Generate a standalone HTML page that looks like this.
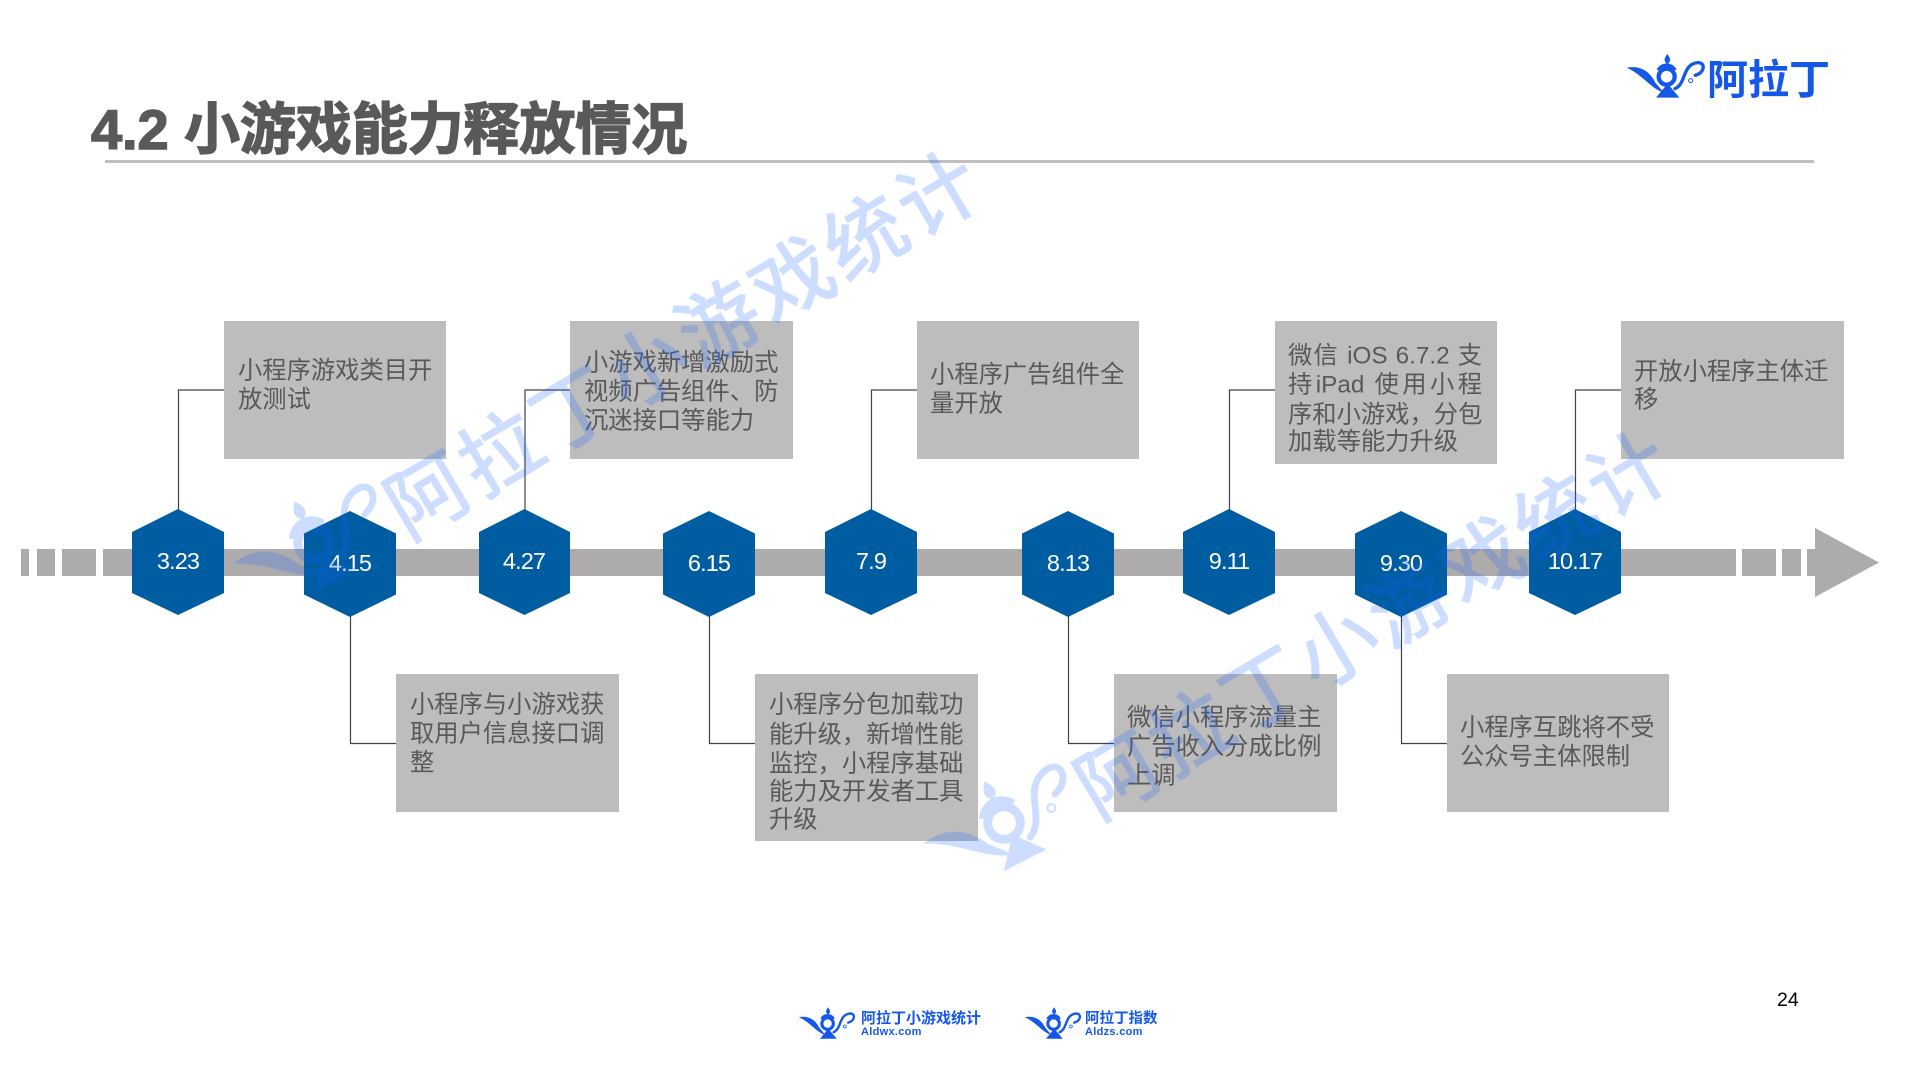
<!DOCTYPE html>
<html lang="zh"><head><meta charset="utf-8"><title>4.2 小游戏能力释放情况</title>
<style>
html,body{margin:0;padding:0;background:#fff}
#p{position:relative;width:1920px;height:1080px;overflow:hidden;background:#fff;font-family:"Liberation Sans","Noto Sans CJK SC",sans-serif}
.b{position:absolute;background:#bdbdbd}
.t{position:absolute;width:196px;font-size:24.3px;line-height:29px;height:29px;color:#595959;white-space:pre;letter-spacing:0;transform:translateY(1.6px)}
.t i{font-style:normal;font-family:"Noto Sans CJK TC",sans-serif}
.j{text-align:justify;text-align-last:justify;white-space:normal}
.h{position:absolute;width:92px;height:29px;line-height:29px;text-align:center;color:#fff;font-size:23.5px;letter-spacing:-.9px}
svg{position:absolute;left:0;top:0}
.title{position:absolute;left:91px;top:93px;font-size:56px;line-height:74px;font-weight:700;color:#595959;white-space:pre;-webkit-text-stroke:1.5px #595959;letter-spacing:-.1px}
.lg{position:absolute;color:#1558e8;font-weight:700;white-space:pre}
</style></head><body><div id="p">
<svg width="1920" height="1080" viewBox="0 0 1920 1080">
<defs>
<g id="lamp">
<path d="M20 113C60 106 88 122 106 158L132 188C92 176 70 136 20 113Z"/>
<circle cx="140" cy="140" r="24" fill="none" stroke="currentColor" stroke-width="13"/>
<path d="M142 72C151 85 155 93 142 102C129 93 133 85 142 72Z"/>
<path d="M108 203L178 203L149 168L137 168Z"/>
<path d="M110 118A34 34 0 0 1 170 118L162 122A26 26 0 0 0 118 122Z"/>
<path d="M165 176C200 160 185 105 232 98C257 96 256 128 226 136" fill="none" stroke="currentColor" stroke-width="10" stroke-linecap="round"/>
<circle cx="212" cy="152" r="6" fill="none" stroke="currentColor" stroke-width="3"/>
</g>
</defs>
<rect x="105" y="160" width="1709" height="3" fill="#bfbfbf"/>
<g fill="#adabac">
<rect x="21" y="549" width="8" height="27"/><rect x="37" y="549" width="18" height="27"/><rect x="62" y="549" width="34" height="27"/>
<rect x="103" y="549" width="1633" height="27"/><rect x="1742" y="549" width="34" height="27"/><rect x="1782" y="549" width="19" height="27"/><rect x="1807" y="549" width="8" height="27"/>
<path d="M1815 528V597L1879 562.5Z"/>
</g>
<g fill="none" stroke="#404050" stroke-width="1.2">
<path d="M178.5 511V390H224M525 511V390H570M871.5 511V390H917M1229.5 511V390H1275M1575.5 511V390H1621"/>
<path d="M350.5 616V743.5H396M709.5 616V743.5H755M1068.5 616V743.5H1114M1401.5 616V743.5H1447"/>
</g>
<g fill="#005da2">
<path d="M178 509L224 532V593L178 615L132 593V532Z"/>
<path d="M524.5 509L570 532V593L524.5 615L479 593V532Z"/>
<path d="M871 509L917 532V593L871 615L825 593V532Z"/>
<path d="M1229 509L1275 532V593L1229 615L1183 593V532Z"/>
<path d="M1575 509L1621 532V593L1575 615L1529 593V532Z"/>
<path d="M350 511L396 533.5V594.5L350 617L304 594.5V533.5Z"/>
<path d="M709 511L755 533.5V594.5L709 617L663 594.5V533.5Z"/>
<path d="M1068 511L1114 533.5V594.5L1068 617L1022 594.5V533.5Z"/>
<path d="M1401 511L1447 533.5V594.5L1401 617L1355 594.5V533.5Z"/>
</g>
</svg>
<div class="title">4.2 小游戏能力释放情况</div>

<div class="b" style="left:224px;top:321px;width:222px;height:138px"></div>
<div class="b" style="left:570px;top:321px;width:223px;height:138px"></div>
<div class="b" style="left:917px;top:321px;width:222px;height:138px"></div>
<div class="b" style="left:1275px;top:321px;width:222px;height:143px"></div>
<div class="b" style="left:1621px;top:321px;width:223px;height:138px"></div>
<div class="b" style="left:396px;top:674px;width:223px;height:138px"></div>
<div class="b" style="left:755px;top:674px;width:223px;height:167px"></div>
<div class="b" style="left:1114px;top:674px;width:223px;height:138px"></div>
<div class="b" style="left:1447px;top:674px;width:222px;height:138px"></div>

<div class="t" style="left:238px;top:355px">小程序游戏类目开</div>
<div class="t" style="left:238px;top:384px">放测试</div>
<div class="t" style="left:584px;top:347px">小游戏新增激励式</div>
<div class="t" style="left:584px;top:376px">视频广告组件、防</div>
<div class="t" style="left:584px;top:405px">沉迷接口等能力</div>
<div class="t" style="left:930px;top:359px">小程序广告组件全</div>
<div class="t" style="left:930px;top:388px">量开放</div>
<div class="t j" style="left:1288px;top:340px;width:194px">微信 iOS 6.7.2 支</div>
<div class="t j" style="left:1288px;top:369px;width:194px">持iPad 使用小程</div>
<div class="t" style="left:1288px;top:396px">序和小游戏<i>，</i>分包</div>
<div class="t" style="left:1288px;top:426px">加载等能力升级</div>
<div class="t" style="left:1634px;top:356px">开放小程序主体迁</div>
<div class="t" style="left:1634px;top:384px">移</div>
<div class="t" style="left:410px;top:689px">小程序与小游戏获</div>
<div class="t" style="left:410px;top:718px">取用户信息接口调</div>
<div class="t" style="left:410px;top:747px">整</div>
<div class="t" style="left:769px;top:689px">小程序分包加载功</div>
<div class="t" style="left:769px;top:716px">能升级<i>，</i>新增性能</div>
<div class="t" style="left:769px;top:745px">监控<i>，</i>小程序基础</div>
<div class="t" style="left:769px;top:776px">能力及开发者工具</div>
<div class="t" style="left:769px;top:804px">升级</div>
<div class="t" style="left:1127px;top:702px">微信小程序流量主</div>
<div class="t" style="left:1127px;top:731px">广告收入分成比例</div>
<div class="t" style="left:1127px;top:760px">上调</div>
<div class="t" style="left:1460px;top:712px">小程序互跳将不受</div>
<div class="t" style="left:1460px;top:741px">公众号主体限制</div>

<div class="h" style="left:132px;top:547px">3.23</div>
<div class="h" style="left:304px;top:549px">4.15</div>
<div class="h" style="left:478px;top:547px">4.27</div>
<div class="h" style="left:663px;top:549px">6.15</div>
<div class="h" style="left:825px;top:547px">7.9</div>
<div class="h" style="left:1022px;top:549px">8.13</div>
<div class="h" style="left:1183px;top:547px">9.11</div>
<div class="h" style="left:1355px;top:549px">9.30</div>
<div class="h" style="left:1529px;top:547px">10.17</div>

<svg width="1920" height="1080" viewBox="0 0 1920 1080" style="color:#1558e8;pointer-events:none">
<g fill="currentColor" transform="translate(1620 30) scale(.3333)"><use href="#lamp"/></g>
<g fill="currentColor" transform="translate(794 990) scale(.24)"><use href="#lamp"/></g>
<g fill="currentColor" transform="translate(1020 990) scale(.24)"><use href="#lamp"/></g>
<g opacity=".22" style="color:#1a66ff" fill="#1a66ff" font-family="Liberation Sans,Noto Sans CJK SC,sans-serif">
<text transform="translate(408 541) rotate(-30.6)" font-size="80" letter-spacing="4.7" stroke="#1a66ff" stroke-width="1.6">阿拉丁小游戏统计</text>
<g transform="translate(314 543) rotate(-27) scale(.68) translate(-140 -140)"><use href="#lamp"/></g>
</g>
<g opacity=".22" style="color:#1a66ff" fill="#1a66ff" font-family="Liberation Sans,Noto Sans CJK SC,sans-serif">
<text transform="translate(1098 821) rotate(-30.6)" font-size="80" letter-spacing="4.7" stroke="#1a66ff" stroke-width="1.6">阿拉丁小游戏统计</text>
<g transform="translate(1004 823) rotate(-27) scale(.68) translate(-140 -140)"><use href="#lamp"/></g>
</g>
</svg>

<div class="lg" style="left:1707px;top:52px;font-size:41px;line-height:56px">阿拉丁</div>
<div class="lg" style="left:861px;top:1009px;font-size:15px;line-height:20px">阿拉丁小游戏统计</div>
<div class="lg" style="left:861px;top:1026px;font-size:11px;line-height:13px;letter-spacing:.3px">Aldwx.com</div>
<div class="lg" style="left:1085px;top:1009px;font-size:14.5px;line-height:20px">阿拉丁指数</div>
<div class="lg" style="left:1085px;top:1026px;font-size:11px;line-height:13px;letter-spacing:.3px">Aldzs.com</div>
<div style="position:absolute;left:1777px;top:989px;width:24px;height:22px;font-size:19.5px;line-height:22px;color:#000">24</div>
</div></body></html>
